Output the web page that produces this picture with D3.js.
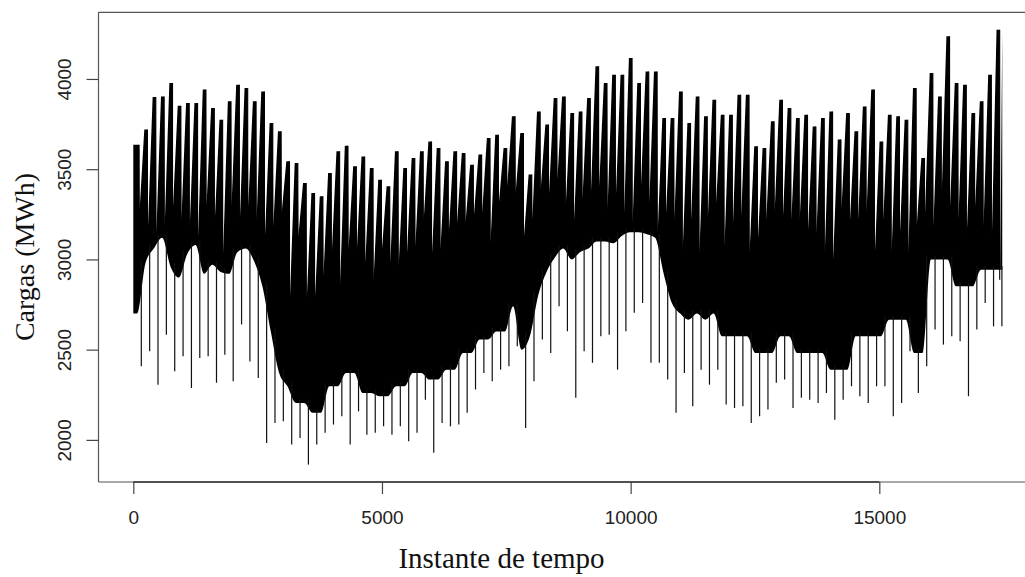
<!DOCTYPE html>
<html>
<head>
<meta charset="utf-8">
<script src="https://cdn.jsdelivr.net/npm/d3@7"></script>
<style>
  html, body { margin: 0; padding: 0; background: #fff; }
  svg { display: block; }
</style>
</head>
<body>
<svg id="chart" width="1025" height="577"></svg>
<script>
// Hourly load, two years, summarised week by week (MWh)
const nHours = 17520;
const hoursPerWeek = 168;

// highest weekday value of each week
const weekHigh = [
  3636, 3720, 3900, 3903, 3978, 3852, 3867, 3867, 3941, 3839, 3774, 3876, 3968, 3950, 3876, 3931, 3756,
  3710, 3544, 3535, 3424, 3368, 3350, 3479, 3599, 3630, 3516, 3571, 3507, 3442, 3405, 3599, 3507, 3562, 3599,
  3654, 3618, 3544, 3599, 3590, 3525, 3581, 3673, 3691, 3618, 3793, 3701, 3470, 3820, 3747, 3895, 3903,
  3812, 3820, 3895, 4070, 3978, 4024, 4024, 4116, 3978, 4042, 4042, 3784, 3784, 3931, 3756, 3903, 3793, 3885,
  3802, 3802, 3913, 3913, 3627, 3618, 3765, 3885, 3839, 3784, 3802, 3737, 3784, 3820, 3664, 3812, 3710, 3848,
  3941, 3654, 3802, 3793, 3774, 3950, 3562, 4033, 3903, 4236, 3978, 3968, 3812, 3876, 4024, 4273
];
// highest weekend value of each week
const weekendHigh = [
  3276, 3183, 3147, 3183, 3294, 3220, 3183, 3128, 3294, 3220, 3036, 3294, 3220, 3294, 3220, 3128, 3183,
  3258, 2796, 3128, 2777, 2796, 2906, 3036, 2870, 3054, 3054, 2980, 2888, 3054, 2980, 2962, 3036, 3073, 3220,
  3036, 3054, 3147, 3202, 3202, 3239, 3258, 3091, 3313, 3405, 3368, 3128, 3220, 3387, 3368, 3442, 3300,
  3220, 3331, 3350, 3405, 3276, 3350, 3258, 3202, 3405, 3313, 3147, 3258, 3220, 3054, 3220, 3036, 3220, 3313,
  3073, 3183, 3239, 3036, 3110, 3220, 3258, 3239, 3220, 3220, 3165, 3147, 3036, 2999, 3276, 3202, 3220, 3258,
  3036, 3220, 3036, 3147, 3036, 3183, 3258, 3183, 3368, 3294, 3220, 3147, 3294, 3183, 3128, 2888
];
// lowest weekday value of each week
const weekLow = [
  2700, 2980, 3060, 3120, 2960, 2900, 3030, 3080, 2920, 2970, 2930, 2920, 3040, 3060, 2990, 2850, 2600,
  2371, 2297, 2205, 2205, 2150, 2150, 2297, 2297, 2371, 2371, 2260, 2260, 2242, 2242, 2297, 2297, 2371, 2371,
  2334, 2334, 2389, 2389, 2482, 2482, 2556, 2556, 2600, 2600, 2740, 2500, 2574, 2800, 2930, 3010, 3060,
  3000, 3040, 3060, 3100, 3100, 3090, 3130, 3150, 3150, 3140, 3120, 2925, 2759, 2700, 2666, 2700, 2666, 2700,
  2574, 2574, 2574, 2574, 2482, 2482, 2482, 2574, 2574, 2482, 2482, 2482, 2482, 2389, 2389, 2389, 2574, 2574,
  2574, 2574, 2666, 2666, 2666, 2482, 2482, 3000, 3000, 3000, 2851, 2851, 2851, 2943, 2943, 2943
];
// lowest value of each week (weekend nights)
const weekendLow = [
  2408, 2491, 2306, 2583, 2380, 2463, 2288, 2454, 2463, 2316, 2472, 2325, 2639, 2435, 2343, 1983, 2094,
  2103, 1974, 2011, 1863, 1974, 2039, 2085, 2131, 1974, 2158, 2029, 2039, 2075, 2029, 2075, 1992, 2039, 2223,
  1928, 2094, 2075, 2085, 2150, 2279, 2371, 2325, 2389, 2408, 2519, 2066, 2325, 2556, 2482, 2740, 2602,
  2233, 2491, 2427, 2574, 2583, 2389, 2602, 2704, 2759, 2427, 2427, 2334, 2150, 2371, 2186, 2389, 2306, 2389,
  2196, 2177, 2186, 2094, 2131, 2168, 2316, 2334, 2177, 2233, 2223, 2205, 2260, 2112, 2223, 2297, 2242, 2205,
  2297, 2297, 2131, 2205, 2491, 2260, 2408, 2611, 2528, 2574, 2546, 2242, 2611, 2759, 2629, 2629
];

const xTicks = [0, 5000, 10000, 15000];
const yTicks = [2000, 2500, 3000, 3500, 4000];
const xTitle = "Instante de tempo";
const yTitle = "Cargas (MWh)";

const svg = d3.select("#chart");
const plot = { left: 98.5, top: 12.3, bottom: 482, right: 1039.5 };

// axis ranges padded by 4% on each side
const xPad = 0.04 * (nHours - 1);
const x = d3.scaleLinear()
  .domain([1 - xPad, nHours + xPad])
  .range([plot.left, plot.right]);

const vMin = d3.min(weekendLow), vMax = d3.max(weekHigh);
const yPad = 0.04 * (vMax - vMin);
const y = d3.scaleLinear()
  .domain([vMin - yPad, vMax + yPad])
  .range([plot.bottom, plot.top]);

// positions inside a week, in hours
const day = 24;
const peakAt = 4.85 * day, dipAt = 5.3 * day, recoverAt = 9.2 * day;
const midWeek = 3.2 * day, troughAt = 6.7 * day;
const nWeeks = weekHigh.length;
const tEnd = nWeeks * hoursPerWeek;

// upper edge: weekday peak, weekend notch, recovery into the next week
const upper = [[0, weekHigh[0]]];
weekHigh.forEach((h, k) => {
  const t0 = k * hoursPerWeek;
  upper.push([t0 + peakAt, h], [t0 + dipAt, weekendHigh[k]]);
  if (k < nWeeks - 1) upper.push([t0 + recoverAt, weekHigh[k + 1]]);
});
upper.push([tEnd, weekHigh[nWeeks - 1]]);

// lower edge of the body: weekday night lows (runs a little past both ends)
const lower = [[-80, weekLow[0]], [0, weekLow[0]]];
weekLow.forEach((v, k) => lower.push([k * hoursPerWeek + midWeek, v]));
lower.push([tEnd, weekLow[nWeeks - 1]], [tEnd + 80, weekLow[nWeeks - 1]]);

svg.append("defs").append("clipPath").attr("id", "clip")
  .append("rect").attr("x", plot.left).attr("y", plot.top)
  .attr("width", plot.right - plot.left).attr("height", plot.bottom - plot.top);

const series = svg.append("g").attr("clip-path", "url(#clip)");

series.append("path")
  .attr("d", d3.area().x(d => x(d[0])).y0(plot.bottom).y1(d => y(d[1]))(upper))
  .attr("fill", "#000");

series.append("path")
  .attr("d", d3.area().curve(d3.curveMonotoneX)
    .x(d => x(d[0])).y0(plot.bottom + 5).y1(d => y(d[1]))(lower))
  .attr("fill", "#fff");

// weekly troughs as thin strokes below the body
series.append("g")
  .selectAll("line")
  .data(weekendLow)
  .join("line")
  .attr("x1", (v, k) => x(k * hoursPerWeek + troughAt))
  .attr("x2", (v, k) => x(k * hoursPerWeek + troughAt))
  .attr("y1", (v, k) => y(Math.max(weekLow[k], weekLow[Math.min(k + 1, nWeeks - 1)]) + 20))
  .attr("y2", v => y(v))
  .attr("stroke", "#111")
  .attr("stroke-width", 1.2);

// weekly peaks as thin strokes
series.append("g")
  .selectAll("line")
  .data(weekHigh)
  .join("line")
  .attr("x1", (v, k) => x(k * hoursPerWeek + peakAt))
  .attr("x2", (v, k) => x(k * hoursPerWeek + peakAt))
  .attr("y1", (v, k) => y(weekendHigh[k]))
  .attr("y2", v => y(v))
  .attr("stroke", "#000")
  .attr("stroke-width", 1.1);

// frame
const frame = svg.append("g").attr("fill", "none").attr("stroke", "#555").attr("stroke-width", 1.2);
frame.append("line").attr("x1", plot.left).attr("x2", plot.left).attr("y1", plot.top).attr("y2", plot.bottom);
frame.append("line").attr("x1", plot.left).attr("x2", plot.right).attr("y1", plot.top).attr("y2", plot.top);
frame.append("line").attr("x1", plot.left).attr("x2", plot.right).attr("y1", plot.bottom).attr("y2", plot.bottom);

// x axis
const xAxis = svg.append("g")
  .attr("transform", `translate(0,${plot.bottom})`)
  .call(d3.axisBottom(x).tickValues(xTicks).tickSize(12).tickPadding(17).tickFormat(d3.format("d")));
xAxis.select(".domain").attr("d", `M${x(xTicks[0])},0H${x(xTicks[xTicks.length - 1])}`)
  .attr("stroke", "#333").attr("stroke-width", 1.3);
xAxis.selectAll(".tick line").attr("stroke", "#444").attr("stroke-width", 1.2);
xAxis.selectAll(".tick text")
  .attr("font-family", "'Liberation Sans', Arial, sans-serif")
  .attr("font-size", 19).attr("fill", "#222");

// y axis
const yAxis = svg.append("g")
  .attr("transform", `translate(${plot.left},0)`)
  .call(d3.axisLeft(y).tickValues(yTicks).tickSize(12).tickFormat(d3.format("d")));
yAxis.select(".domain").remove();
yAxis.selectAll(".tick line").attr("stroke", "#444").attr("stroke-width", 1.2);
yAxis.selectAll(".tick text")
  .attr("font-family", "'Liberation Sans', Arial, sans-serif")
  .attr("font-size", 19).attr("fill", "#222")
  .attr("text-anchor", "middle")
  .attr("x", null).attr("dy", null)
  .attr("transform", "translate(-27.5,0) rotate(-90)");

// titles
svg.append("text")
  .attr("x", 501.5).attr("y", 568)
  .attr("text-anchor", "middle")
  .attr("font-family", "'Liberation Serif', 'Times New Roman', serif")
  .attr("font-size", 29).attr("fill", "#111")
  .text(xTitle);

svg.append("text")
  .attr("transform", "translate(34,257) rotate(-90)")
  .attr("text-anchor", "middle")
  .attr("font-family", "'Liberation Serif', 'Times New Roman', serif")
  .attr("font-size", 28).attr("fill", "#111")
  .text(yTitle);
</script>
</body>
</html>
